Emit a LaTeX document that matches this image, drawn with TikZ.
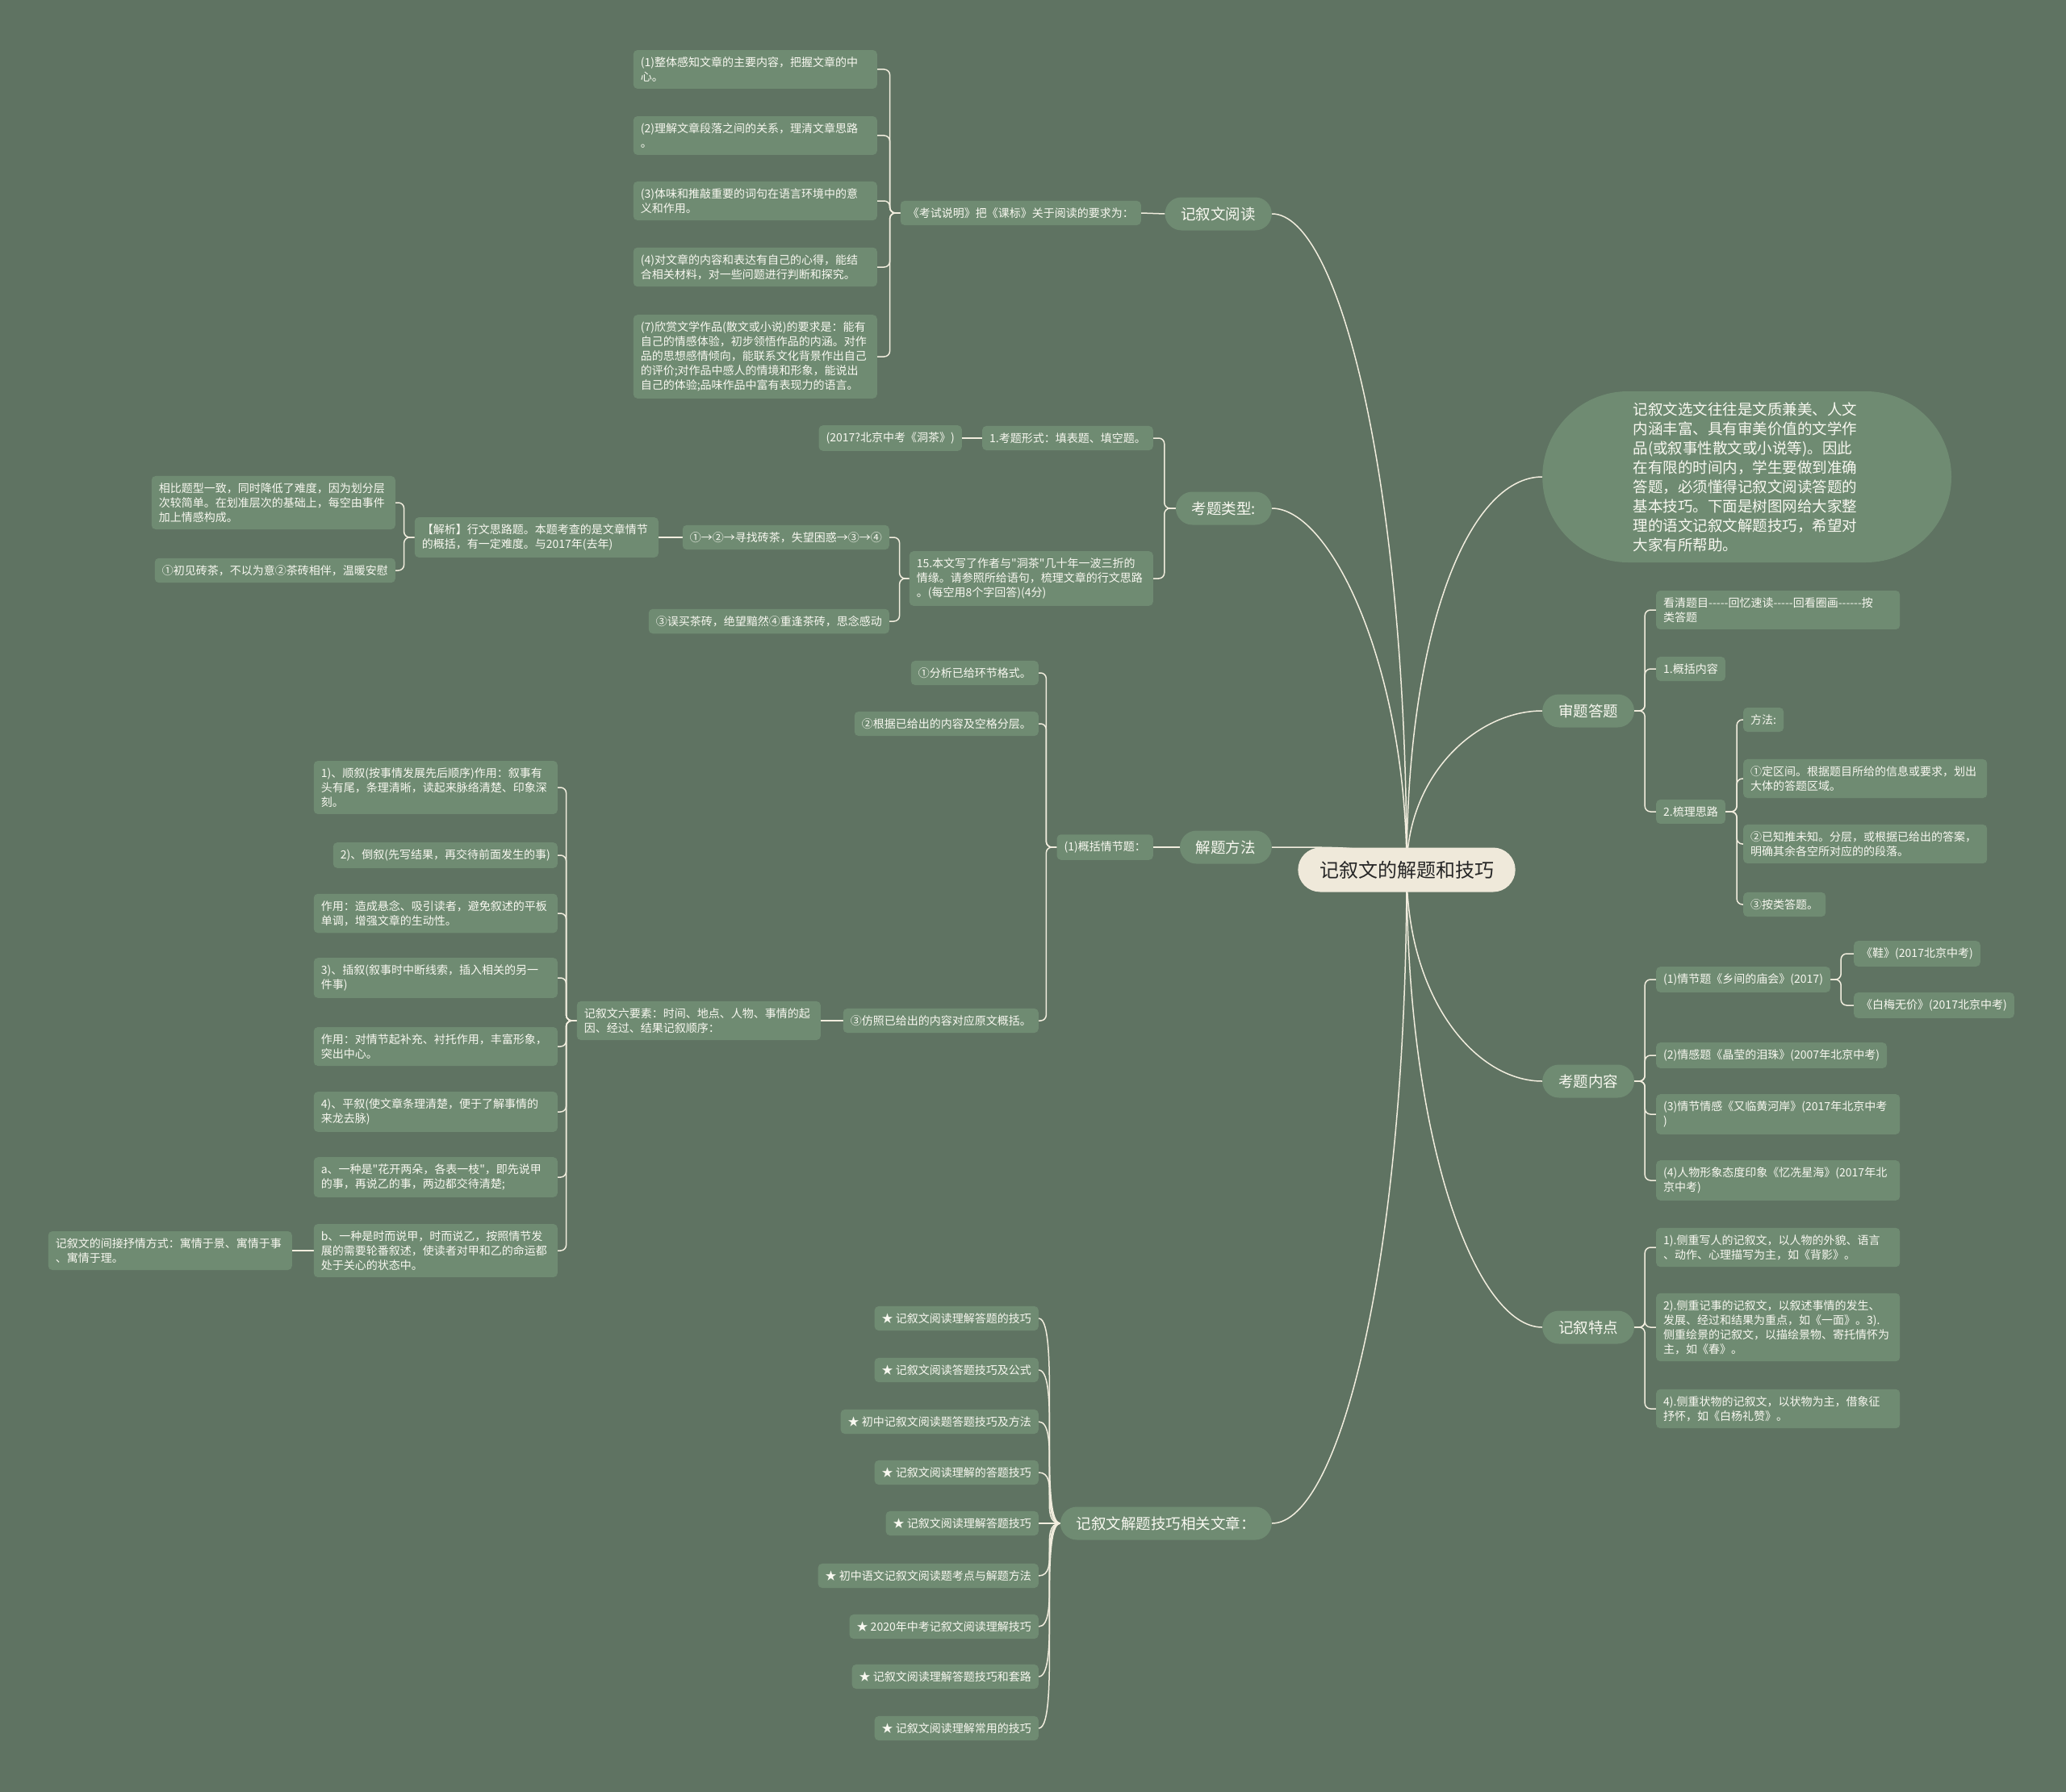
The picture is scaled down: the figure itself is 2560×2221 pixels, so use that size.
\documentclass[tikz,border=0pt]{standalone}
\usepackage{fontspec}
\setmainfont{Noto Sans CJK SC}[Ligatures=TeXOff]
\usetikzlibrary{shapes.misc,backgrounds}

\definecolor{bgcol}{RGB}{95,115,98}
\definecolor{leafcol}{RGB}{111,139,114}
\definecolor{linecol}{RGB}{241,237,222}
\definecolor{rootcol}{RGB}{239,233,218}
\definecolor{txtcol}{RGB}{248,248,240}

\begin{document}
\begin{tikzpicture}[x=1pt, y=-1pt,
  leaf/.style={rectangle, rounded corners=5pt, fill=leafcol, text=txtcol, align=left,
               inner xsep=9pt, inner ysep=8.5pt, font=\fontsize{14}{18}\selectfont},
  wide/.style={text width=284pt},
  branch/.style={rounded rectangle, fill=leafcol, text=txtcol, minimum height=41pt,
                 inner xsep=18pt, font=\fontsize{18.5}{22}\selectfont},
  root/.style={rounded rectangle, fill=rootcol, text=black!85, minimum height=55pt,
               minimum width=276pt, font=\fontsize{24}{28}\selectfont},
  link/.style={draw=linecol, line width=1.5pt, rounded corners=7pt},
  curve/.style={draw=linecol, line width=1.5pt}
]
  \useasboundingbox (0,0) rectangle (2560,2221);

  % centre
  \node[root] (root) at (1743,1078) {记叙文的解题和技巧};

  % 记叙文阅读
  \node[branch, anchor=east] (yd) at (1576,265) {记叙文阅读};
  \node[leaf, anchor=east] (ks) at (1414,264) {《考试说明》把《课标》关于阅读的要求为：};
  \node[leaf, wide, anchor=east] (r1) at (1087,86) {(1)整体感知文章的主要内容，把握文章的中\\心。};
  \node[leaf, wide, anchor=east] (r2) at (1087,168) {(2)理解文章段落之间的关系，理清文章思路\\。};
  \node[leaf, wide, anchor=east] (r3) at (1087,249) {(3)体味和推敲重要的词句在语言环境中的意\\义和作用。};
  \node[leaf, wide, anchor=east] (r4) at (1087,331) {(4)对文章的内容和表达有自己的心得，能结\\合相关材料，对一些问题进行判断和探究。};
  \node[leaf, wide, anchor=east] (r5) at (1087,442) {(7)欣赏文学作品(散文或小说)的要求是：能有\\自己的情感体验，初步领悟作品的内涵。对作\\品的思想感情倾向，能联系文化背景作出自己\\的评价;对作品中感人的情境和形象，能说出\\自己的体验;品味作品中富有表现力的语言。};

  % 考题类型
  \node[branch, anchor=east] (kt) at (1576,630) {考题类型:};
  \node[leaf, anchor=east] (k1) at (1429,543) {1.考题形式：填表题、填空题。};
  \node[leaf, anchor=east] (k1a) at (1192,543) {(2017?北京中考《洞茶》)};
  \node[leaf, wide, anchor=east] (k2) at (1429,717) {15.本文写了作者与"洞茶"几十年一波三折的\\情缘。请参照所给语句，梳理文章的行文思路\\。(每空用8个字回答)(4分)};
  \node[leaf, anchor=east] (k2a) at (1102,666) {①→②→寻找砖茶，失望困惑→③→④};
  \node[leaf, anchor=east] (k2b) at (1102,770) {③误买茶砖，绝望黯然④重逢茶砖，思念感动};
  \node[leaf, wide, anchor=east] (jx) at (816,666) {【解析】行文思路题。本题考查的是文章情节\\的概括，有一定难度。与2017年(去年)};
  \node[leaf, wide, anchor=east] (jx1) at (490,623) {相比题型一致，同时降低了难度，因为划分层\\次较简单。在划准层次的基础上，每空由事件\\加上情感构成。};
  \node[leaf, anchor=east] (jx2) at (490,707) {①初见砖茶，不以为意②茶砖相伴，温暖安慰};

  % 解题方法
  \node[branch, anchor=east] (jt) at (1576,1050) {解题方法};
  \node[leaf, anchor=east] (gk) at (1429,1050) {(1)概括情节题：};
  \node[leaf, anchor=east] (g1) at (1287,834) {①分析已给环节格式。};
  \node[leaf, anchor=east] (g2) at (1287,897) {②根据已给出的内容及空格分层。};
  \node[leaf, anchor=east] (g3) at (1287,1265) {③仿照已给出的内容对应原文概括。};
  \node[leaf, wide, anchor=east] (ly) at (1017,1265) {记叙文六要素：时间、地点、人物、事情的起\\因、经过、结果记叙顺序：};
  \node[leaf, wide, anchor=east] (s1) at (691,976) {1)、顺叙(按事情发展先后顺序)作用：叙事有\\头有尾，条理清晰，读起来脉络清楚、印象深\\刻。};
  \node[leaf, anchor=east] (s2) at (691,1060) {2)、倒叙(先写结果，再交待前面发生的事)};
  \node[leaf, wide, anchor=east] (s3) at (691,1132) {作用：造成悬念、吸引读者，避免叙述的平板\\单调，增强文章的生动性。};
  \node[leaf, wide, anchor=east] (s4) at (691,1212) {3)、插叙(叙事时中断线索，插入相关的另一\\件事)};
  \node[leaf, wide, anchor=east] (s5) at (691,1297) {作用：对情节起补充、衬托作用，丰富形象，\\突出中心。};
  \node[leaf, wide, anchor=east] (s6) at (691,1378) {4)、平叙(使文章条理清楚，便于了解事情的\\来龙去脉)};
  \node[leaf, wide, anchor=east] (s7) at (691,1459) {a、一种是"花开两朵，各表一枝"，即先说甲\\的事，再说乙的事，两边都交待清楚;};
  \node[leaf, wide, anchor=east] (s8) at (691,1550) {b、一种是时而说甲，时而说乙，按照情节发\\展的需要轮番叙述，使读者对甲和乙的命运都\\处于关心的状态中。};
  \node[leaf, wide, anchor=east] (sj) at (362,1550) {记叙文的间接抒情方式：寓情于景、寓情于事\\、寓情于理。};

  % 相关文章
  \node[branch, anchor=east] (xg) at (1576,1888) {记叙文解题技巧相关文章：};
  \node[leaf, anchor=east] (a1) at (1287,1634) {★ 记叙文阅读理解答题的技巧};
  \node[leaf, anchor=east] (a2) at (1287,1698) {★ 记叙文阅读答题技巧及公式};
  \node[leaf, anchor=east] (a3) at (1287,1762) {★ 初中记叙文阅读题答题技巧及方法};
  \node[leaf, anchor=east] (a4) at (1287,1825) {★ 记叙文阅读理解的答题技巧};
  \node[leaf, anchor=east] (a5) at (1287,1888) {★ 记叙文阅读理解答题技巧};
  \node[leaf, anchor=east] (a6) at (1287,1953) {★ 初中语文记叙文阅读题考点与解题方法};
  \node[leaf, anchor=east] (a7) at (1287,2016) {★ 2020年中考记叙文阅读理解技巧};
  \node[leaf, anchor=east] (a8) at (1287,2078) {★ 记叙文阅读理解答题技巧和套路};
  \node[leaf, anchor=east] (a9) at (1287,2142) {★ 记叙文阅读理解常用的技巧};

  % right side
  \node[rounded rectangle, fill=leafcol, text=txtcol, align=left, text width=282pt,
        minimum height=212pt, inner xsep=58pt, font=\fontsize{18.5}{24}\selectfont, anchor=west]
    (desc) at (1911,591) {记叙文选文往往是文质兼美、人文\\内涵丰富、具有审美价值的文学作\\品(或叙事性散文或小说等)。因此\\在有限的时间内，学生要做到准确\\答题，必须懂得记叙文阅读答题的\\基本技巧。下面是树图网给大家整\\理的语文记叙文解题技巧，希望对\\大家有所帮助。};

  % 审题答题
  \node[branch, anchor=west] (sd) at (1911,881) {审题答题};
  \node[leaf, wide, anchor=west] (d1) at (2052,756) {看清题目-----回忆速读-----回看圈画------按\\类答题};
  \node[leaf, anchor=west] (d2) at (2052,829) {1.概括内容};
  \node[leaf, anchor=west] (d3) at (2052,1006) {2.梳理思路};
  \node[leaf, anchor=west] (m0) at (2160,892) {方法:};
  \node[leaf, wide, anchor=west] (m1) at (2160,965) {①定区间。根据题目所给的信息或要求，划出\\大体的答题区域。};
  \node[leaf, wide, anchor=west] (m2) at (2160,1046) {②已知推未知。分层，或根据已给出的答案，\\明确其余各空所对应的的段落。};
  \node[leaf, anchor=west] (m3) at (2160,1121) {③按类答题。};

  % 考题内容
  \node[branch, anchor=west] (kn) at (1911,1340) {考题内容};
  \node[leaf, anchor=west] (n1) at (2052,1214) {(1)情节题《乡间的庙会》(2017)};
  \node[leaf, anchor=west] (n1a) at (2297,1182) {《鞋》(2017北京中考)};
  \node[leaf, anchor=west] (n1b) at (2297,1246) {《白梅无价》(2017北京中考)};
  \node[leaf, anchor=west] (n2) at (2052,1308) {(2)情感题《晶莹的泪珠》(2007年北京中考)};
  \node[leaf, wide, anchor=west] (n3) at (2052,1381) {(3)情节情感《又临黄河岸》(2017年北京中考\\)};
  \node[leaf, wide, anchor=west] (n4) at (2052,1463) {(4)人物形象态度印象《忆冼星海》(2017年北\\京中考)};

  % 记叙特点
  \node[branch, anchor=west] (tz) at (1911,1645) {记叙特点};
  \node[leaf, wide, anchor=west] (t1) at (2052,1546) {1).侧重写人的记叙文，以人物的外貌、语言\\、动作、心理描写为主，如《背影》。};
  \node[leaf, wide, anchor=west] (t2) at (2052,1645) {2).侧重记事的记叙文，以叙述事情的发生、\\发展、经过和结果为重点，如《一面》。3).\\侧重绘景的记叙文，以描绘景物、寄托情怀为\\主，如《春》。};
  \node[leaf, wide, anchor=west] (t3) at (2052,1746) {4).侧重状物的记叙文，以状物为主，借象征\\抒怀，如《白杨礼赞》。};

  \begin{pgfonlayer}{background}
    \fill[bgcol] (0,0) rectangle (2560,2221);

    % from the centre
    \draw[curve] (root.center) .. controls (1743,600) and (1660,265) .. (yd.east);
    \draw[curve] (root.center) .. controls (1743,830) and (1650,630) .. (kt.east);
    \draw[curve] (root.center) .. controls (1700,1050) .. (jt.east);
    \draw[curve] (root.center) .. controls (1743,1560) and (1660,1888) .. (xg.east);
    \draw[curve] (root.center) .. controls (1743,780) and (1820,591) .. (desc.west);
    \draw[curve] (root.center) .. controls (1743,960) and (1830,881) .. (sd.west);
    \draw[curve] (root.center) .. controls (1743,1240) and (1830,1340) .. (kn.west);
    \draw[curve] (root.center) .. controls (1743,1420) and (1830,1645) .. (tz.west);

    % 记叙文阅读
    \draw[link] (yd.west) -- (ks.east);
    \foreach \c in {r1,r2,r3,r4,r5}
      \draw[link] (ks.west) -- ++(-13,0) |- (\c.east);

    % 考题类型
    \foreach \c in {k1,k2}
      \draw[link] (kt.west) -- ++(-14,0) |- (\c.east);
    \draw[link] (k1.west) -- (k1a.east);
    \foreach \c in {k2a,k2b}
      \draw[link] (k2.west) -- ++(-12,0) |- (\c.east);
    \draw[link] (k2a.west) -- (jx.east);
    \foreach \c in {jx1,jx2}
      \draw[link] (jx.west) -- ++(-13,0) |- (\c.east);

    % 解题方法
    \draw[link] (jt.west) -- (gk.east);
    \foreach \c in {g1,g2,g3}
      \draw[link] (gk.west) -- ++(-13,0) |- (\c.east);
    \draw[link] (g3.west) -- (ly.east);
    \foreach \i in {1,...,8}
      \draw[link] (ly.west) -- ++(-13,0) |- (s\i.east);
    \draw[link] (s8.west) -- (sj.east);

    % 相关文章
    \foreach \i in {1,...,9}
      \draw[curve] (xg.west) .. controls +(-28,0) and +(28,0) .. (a\i.east);

    % 审题答题
    \foreach \c in {d1,d2,d3}
      \draw[link] (sd.east) -- ++(13,0) |- (\c.west);
    \foreach \c in {m0,m1,m2,m3}
      \draw[link] (d3.east) -- ++(14,0) |- (\c.west);

    % 考题内容
    \foreach \c in {n1,n2,n3,n4}
      \draw[link] (kn.east) -- ++(13,0) |- (\c.west);
    \foreach \c in {n1a,n1b}
      \draw[link] (n1.east) -- ++(13,0) |- (\c.west);

    % 记叙特点
    \foreach \c in {t1,t2,t3}
      \draw[link] (tz.east) -- ++(13,0) |- (\c.west);
  \end{pgfonlayer}
\end{tikzpicture}
\end{document}
